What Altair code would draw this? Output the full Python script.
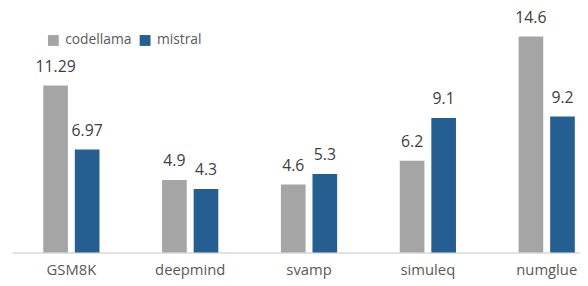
import altair as alt
import pandas as pd

categories = ["GSM8K", "deepmind", "svamp", "simuleq", "numglue"]
series = ["codellama", "mistral"]
codellama = [11.29, 4.9, 4.6, 6.2, 14.6]
mistral = [6.97, 4.3, 5.3, 9.1, 9.2]
labels_codellama = ["11.29", "4.9", "4.6", "6.2", "14.6"]
labels_mistral = ["6.97", "4.3", "5.3", "9.1", "9.2"]
colors = ["#A5A5A5", "#255E91"]

rows = []
for i, c in enumerate(categories):
    rows.append(dict(task=c, model="codellama", value=codellama[i], label=labels_codellama[i]))
    rows.append(dict(task=c, model="mistral", value=mistral[i], label=labels_mistral[i]))
df = pd.DataFrame(rows)

FONT = "Open Sans"

x = alt.X(
    "task:N",
    sort=categories,
    scale=alt.Scale(range=[0, 602.5], paddingInner=0.527, paddingOuter=0.2635),
    axis=alt.Axis(
        title=None, ticks=False, labelAngle=0, labelFontSize=15, labelColor="#595959",
        labelFont=FONT, domainColor="#D9D9D9", domainWidth=1.5, labelPadding=10,
    ),
)
xo = alt.XOffset("model:N", sort=series, scale=alt.Scale(paddingInner=0.219, paddingOuter=0))
y = alt.Y("value:Q", scale=alt.Scale(domain=[0, 16]), axis=None)

base = alt.Chart(df)

bars = base.mark_bar().encode(
    x=x,
    xOffset=xo,
    y=y,
    color=alt.Color(
        "model:N",
        sort=series,
        scale=alt.Scale(domain=series, range=colors),
        legend=alt.Legend(
            title=None, orient="none", legendX=35, legendY=18, direction="horizontal",
            symbolType="square", symbolSize=121, symbolStrokeWidth=0,
            labelFontSize=14, labelColor="#595959", labelFont=FONT,
            columnPadding=6, labelOffset=5,
        ),
    ),
)

text = base.mark_text(
    dy=-14, baseline="alphabetic", fontSize=16, font=FONT, color="#404040"
).encode(
    x=x,
    xOffset=xo,
    y=y,
    text="label:N",
)

chart = (
    alt.layer(bars, text)
    .properties(
        width=576,
        height=240,
        padding={"left": 4, "top": 6, "right": 0, "bottom": 30},
        autosize="none",
    )
    .configure_view(stroke=None)
)

chart.save("out.html", embed_options={"renderer": "svg", "actions": False})
